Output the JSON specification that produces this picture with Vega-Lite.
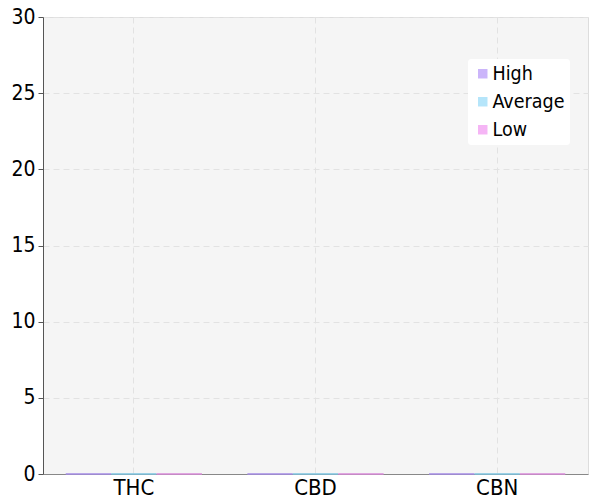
{
  "$schema": "https://vega.github.io/schema/vega-lite/v6.json",
  "autosize": "none",
  "padding": {"left": 43, "top": 17, "right": 6, "bottom": 26},
  "width": 545,
  "height": 457,
  "background": "white",
  "config": {
    "view": {"fill": "#f5f5f5", "stroke": "#dddddd"},
    "font": "DejaVu Sans Condensed"
  },
  "data": {
    "values": [
      {"cannabinoid": "THC", "level": "High", "value": 0},
      {"cannabinoid": "THC", "level": "Average", "value": 0},
      {"cannabinoid": "THC", "level": "Low", "value": 0},
      {"cannabinoid": "CBD", "level": "High", "value": 0},
      {"cannabinoid": "CBD", "level": "Average", "value": 0},
      {"cannabinoid": "CBD", "level": "Low", "value": 0},
      {"cannabinoid": "CBN", "level": "High", "value": 0},
      {"cannabinoid": "CBN", "level": "Average", "value": 0},
      {"cannabinoid": "CBN", "level": "Low", "value": 0}
    ]
  },
  "mark": {"type": "bar", "strokeWidth": 1.5, "fillOpacity": 1},
  "encoding": {
    "x": {
      "field": "cannabinoid",
      "type": "nominal",
      "sort": ["THC", "CBD", "CBN"],
      "scale": {"paddingInner": 0.25, "paddingOuter": 0.125},
      "axis": {
        "title": null,
        "labelAngle": 0,
        "labelFontSize": 22,
        "labelColor": "black",
        "labelPadding": 3,
        "ticks": false,
        "domainColor": "#888888",
        "grid": true,
        "gridDash": [6, 4],
        "gridColor": "#e2e2e2",
        "bandPosition": 0.5
      }
    },
    "xOffset": {
      "field": "level",
      "sort": ["High", "Average", "Low"]
    },
    "y": {
      "field": "value",
      "type": "quantitative",
      "scale": {"domain": [0, 30], "nice": false},
      "axis": {
        "title": null,
        "values": [0, 5, 10, 15, 20, 25, 30],
        "labelFontSize": 21,
        "labelColor": "black",
        "labelPadding": 3,
        "tickSize": 5,
        "tickColor": "#555555",
        "domainColor": "#555555",
        "gridDash": [6, 4],
        "gridColor": "#e2e2e2"
      }
    },
    "color": {
      "field": "level",
      "type": "nominal",
      "sort": ["High", "Average", "Low"],
      "scale": {"domain": ["High", "Average", "Low"], "range": ["#cbb5fa", "#b5e5fa", "#f5b5f5"]},
      "legend": {
        "title": null,
        "orient": "none",
        "legendX": 425,
        "legendY": 42,
        "symbolType": "square",
        "symbolSize": 90,
        "symbolStrokeWidth": 0,
        "labelFontSize": 19.5,
        "labelColor": "black",
        "fillColor": "white",
        "padding": 5,
        "cornerRadius": 3,
        "rowPadding": 7,
        "labelOffset": 0
      }
    },
    "stroke": {
      "field": "level",
      "type": "nominal",
      "scale": {"domain": ["High", "Average", "Low"], "range": ["#a58ce6", "#7cc4e0", "#d98ad9"]},
      "legend": null
    }
  }
}
